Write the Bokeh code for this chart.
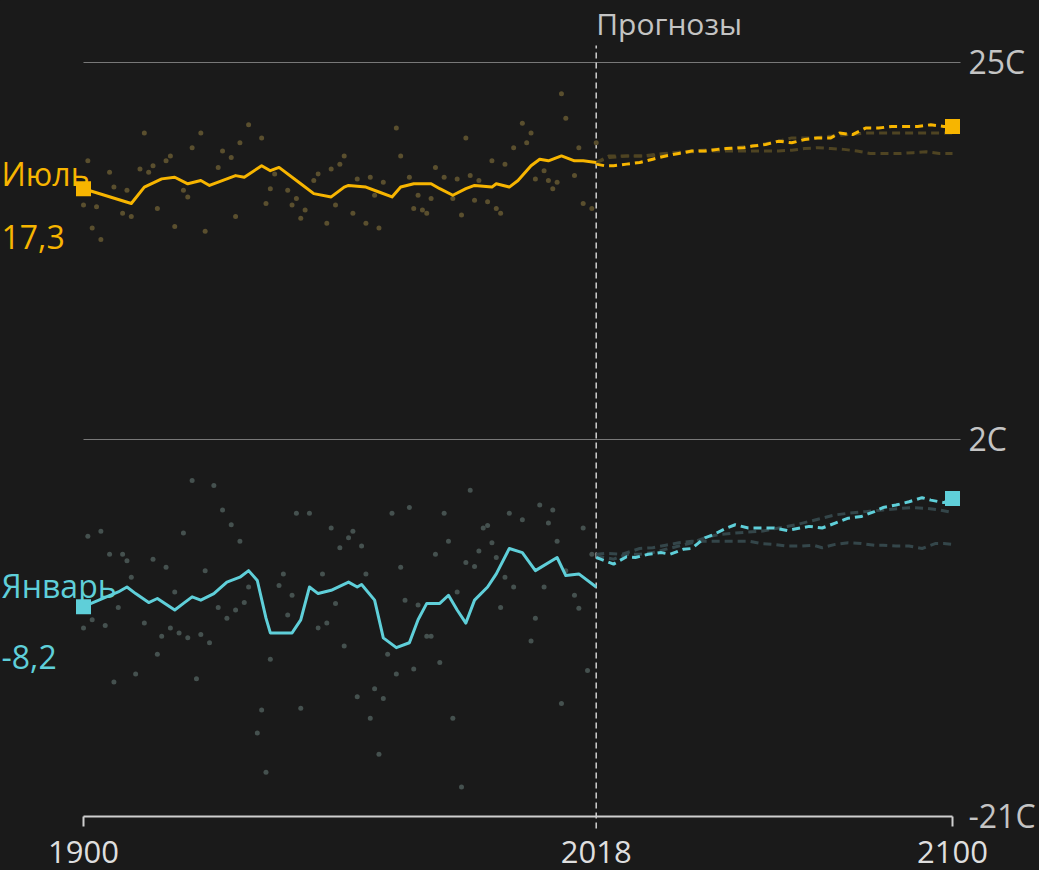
from bokeh.plotting import figure
from bokeh.embed import file_html
from bokeh.resources import INLINE
from bokeh.core.properties import value

# ---------------- data ----------------
xtick_values = [1900, 2018, 2100]
xtick_labels = ["1900", "2018", "2100"]
ytick_values = [-21, 2, 25]
ytick_labels = ["-21C", "2C", "25C"]
forecast_year = 2018
forecast_label = "Прогнозы"

jul_name = "Июль"
jan_name = "Январь"

# smoothed July history
jul_years = [1900, 1911, 1914, 1918, 1921, 1924, 1927, 1929, 1935, 1937,
             1941, 1943, 1945, 1950, 1953, 1957, 1960, 1961, 1965, 1968,
             1971, 1973, 1976, 1980, 1982, 1985, 1988, 1990, 1994, 1995,
             1998, 2000, 2003, 2005, 2007, 2010, 2013, 2015, 2018]
jul_vals = [17.3, 16.4, 17.4, 17.9, 18.0, 17.6, 17.8, 17.5, 18.1, 18.0,
            18.7, 18.4, 18.6, 17.6, 17.0, 16.8, 17.4, 17.5, 17.4, 17.1,
            16.8, 17.4, 17.6, 17.6, 17.3, 16.9, 17.3, 17.5, 17.4, 17.6,
            17.4, 17.8, 18.7, 19.1, 19.0, 19.3, 19.0, 19.0, 18.9]

# smoothed January history
jan_years = [1900, 1908, 1910, 1912, 1915, 1917, 1921, 1923, 1925, 1927,
             1930, 1933, 1936, 1938, 1940, 1942, 1943, 1946, 1948, 1950,
             1952, 1954, 1957, 1961, 1963, 1964, 1967, 1969, 1972, 1975,
             1977, 1979, 1982, 1984, 1986, 1988, 1990, 1993, 1995, 1998,
             2001, 2004, 2009, 2011, 2014, 2018]
jan_vals = [-8.2, -7.3, -7.0, -7.4, -7.95, -7.7, -8.4, -8.0, -7.6, -7.8,
            -7.4, -6.7, -6.4, -6.0, -6.6, -8.9, -9.8, -9.8, -9.8, -9.0,
            -7.0, -7.4, -7.2, -6.7, -7.0, -6.85, -7.8, -10.1, -10.7, -10.4,
            -9.0, -8.0, -8.0, -7.5, -8.4, -9.2, -7.8, -7.0, -6.2, -4.65,
            -4.9, -6.0, -5.2, -6.3, -6.2, -7.0]

# annual July values
jul_pt_years = [1900, 1901, 1902, 1903, 1904, 1906, 1907, 1909, 1910, 1911,
                1913, 1914, 1915, 1916, 1917, 1919, 1920, 1921, 1923, 1924,
                1925, 1927, 1928, 1931, 1932, 1934, 1935, 1936, 1938, 1941,
                1942, 1943, 1944, 1947, 1948, 1949, 1950, 1951, 1953, 1954,
                1956, 1957, 1958, 1959, 1960, 1962, 1963, 1965, 1966, 1967,
                1968, 1969, 1972, 1973, 1975, 1976, 1977, 1978, 1979, 1980,
                1981, 1983, 1985, 1986, 1987, 1988, 1989, 1990, 1991, 1993,
                1994, 1995, 1996, 1997, 1999, 2001, 2002, 2003, 2004, 2006,
                2007, 2008, 2009, 2010, 2011, 2013, 2014, 2015, 2017, 2018]
jul_pt_vals = [16.3, 19.0, 14.9, 16.2, 14.2, 18.3, 17.4, 15.8, 17.2, 15.6,
               18.5, 20.7, 18.3, 18.7, 16.1, 19.0, 19.3, 15.0, 17.2, 16.8,
               19.8, 20.7, 14.7, 18.6, 19.6, 19.2, 15.6, 20.1, 21.2, 20.4,
               16.4, 17.3, 18.2, 17.2, 16.3, 16.7, 15.5, 16.0, 17.8, 18.2,
               15.2, 18.5, 16.3, 18.8, 19.3, 15.8, 17.9, 15.2, 18.0, 16.9,
               14.9, 17.7, 21.0, 19.3, 18.0, 16.1, 16.9, 16.0, 15.8, 16.7,
               18.6, 18.0, 16.7, 17.9, 15.7, 20.4, 18.1, 16.6, 17.8, 16.5,
               19.0, 16.1, 15.8, 18.8, 19.8, 21.3, 20.1, 20.7, 17.9, 18.4,
               17.8, 17.3, 17.7, 23.1, 21.6, 18.1, 19.8, 16.4, 16.1, 20.1]

# annual January values
jan_pt_years = [1900, 1901, 1902, 1904, 1905, 1906, 1907, 1908, 1909, 1910,
                1911, 1912, 1914, 1916, 1917, 1918, 1919, 1920, 1921, 1922,
                1923, 1924, 1925, 1926, 1927, 1928, 1929, 1930, 1931, 1932,
                1933, 1934, 1935, 1936, 1937, 1938, 1940, 1941, 1942, 1943,
                1945, 1946, 1947, 1948, 1949, 1950, 1952, 1954, 1955, 1956,
                1957, 1958, 1959, 1960, 1961, 1962, 1963, 1964, 1965, 1966,
                1967, 1968, 1969, 1970, 1971, 1972, 1973, 1974, 1975, 1976,
                1977, 1979, 1980, 1981, 1982, 1983, 1984, 1985, 1986, 1987,
                1988, 1989, 1990, 1991, 1992, 1993, 1994, 1995, 1996, 1997,
                1998, 1999, 2001, 2003, 2004, 2005, 2006, 2007, 2008, 2009,
                2010, 2011, 2013, 2014, 2015, 2016, 2017]
jan_pt_vals = [-9.5, -3.9, -9.0, -3.6, -9.35, -5.0, -12.8, -8.25, -5.0, -5.4,
               -6.4, -12.3, -9.2, -5.3, -11.1, -10.0, -5.8, -9.5, -7.3, -9.8,
               -3.7, -10.1, -0.5, -12.6, -9.9, -6.0, -10.4, -0.8, -8.25, -2.3,
               -8.9, -3.2, -8.4, -4.2, -7.95, -7.0, -15.9, -14.5, -18.3, -11.4,
               -6.9, -6.2, -8.7, -7.5, -2.5, -14.4, -2.5, -9.5, -6.2, -9.2,
               -3.4, -8.0, -4.6, -10.6, -4.0, -3.6, -13.7, -4.5, -6.2, -15.0,
               -13.2, -17.2, -13.8, -11.1, -2.5, -12.3, -5.8, -7.8, -2.15, -12.0,
               -8.1, -10.0, -10.0, -5.0, -11.6, -2.5, -4.2, -15.0, -7.3, -19.2,
               -5.5, -1.1, -5.75, -4.8, -3.4, -3.25, -4.3, -5.2, -8.25, -6.4,
               -2.5, -7.0, -2.9, -10.3, -8.9, -2.0, -7.0, -3.1, -2.3, -4.2,
               -14.1, -6.0, -7.5, -8.3, -3.4, -12.1, -5.0]

# July projections
jul_proj_years = [2018, 2020, 2022, 2025, 2028, 2031, 2034, 2037, 2040, 2043,
                  2046, 2048, 2052, 2054, 2057, 2060, 2063, 2066, 2069, 2072,
                  2074, 2077, 2080, 2083, 2086, 2089, 2092, 2095, 2098, 2100]
jul_proj_vals = [18.8, 18.7, 18.7, 18.8, 18.9, 19.1, 19.3, 19.45, 19.6, 19.6,
                 19.7, 19.75, 19.8, 19.9, 20.0, 20.2, 20.1, 20.3, 20.4, 20.4,
                 20.7, 20.6, 21.0, 21.0, 21.1, 21.1, 21.1, 21.2, 21.1, 21.1]
jul_hi_years = [2018, 2021, 2025, 2029, 2032, 2036, 2040, 2045, 2050, 2055,
                2060, 2063, 2068, 2072, 2076, 2080, 2085, 2090, 2095, 2100]
jul_hi_vals = [18.9, 19.3, 19.3, 19.3, 19.4, 19.5, 19.6, 19.7, 19.8, 19.95,
               20.2, 20.4, 20.4, 20.5, 20.6, 20.7, 20.7, 20.7, 20.7, 20.7]
jul_lo_years = [2018, 2021, 2025, 2030, 2035, 2040, 2045, 2050, 2055, 2060,
                2063, 2066, 2069, 2072, 2075, 2078, 2081, 2085, 2088, 2091,
                2094, 2097, 2100]
jul_lo_vals = [18.9, 19.2, 19.3, 19.3, 19.45, 19.55, 19.6, 19.6, 19.6, 19.6,
               19.65, 19.75, 19.8, 19.75, 19.7, 19.6, 19.45, 19.45, 19.45, 19.5,
               19.55, 19.45, 19.45]

# January projections
jan_proj_years = [2018, 2019, 2022, 2025, 2027, 2030, 2033, 2035, 2038, 2040,
                  2043, 2045, 2048, 2050, 2053, 2056, 2059, 2062, 2065, 2067,
                  2070, 2073, 2076, 2079, 2082, 2084, 2087, 2090, 2093, 2095,
                  2098, 2100]
jan_proj_vals = [-5.2, -5.3, -5.6, -5.15, -5.2, -5.0, -4.9, -5.0, -4.7, -4.65,
                 -4.0, -3.8, -3.4, -3.2, -3.4, -3.4, -3.4, -3.55, -3.4, -3.3,
                 -3.4, -3.1, -2.8, -2.7, -2.4, -2.15, -2.0, -1.8, -1.55, -1.7,
                 -1.85, -1.6]
jan_hi_years = [2018, 2022, 2025, 2028, 2031, 2034, 2037, 2040, 2043, 2046,
                2050, 2053, 2056, 2060, 2064, 2067, 2070, 2073, 2076, 2080,
                2084, 2088, 2091, 2094, 2097, 2100]
jan_hi_vals = [-5.1, -5.3, -5.0, -5.0, -4.9, -4.7, -4.5, -4.3, -4.0, -3.8,
               -3.7, -3.65, -3.6, -3.4, -3.2, -3.0, -2.8, -2.6, -2.5, -2.4,
               -2.3, -2.2, -2.15, -2.2, -2.3, -2.45]
jan_lo_years = [2018, 2020, 2024, 2028, 2031, 2034, 2037, 2040, 2044, 2047,
                2050, 2053, 2056, 2059, 2062, 2065, 2068, 2070, 2073, 2076,
                2079, 2082, 2084, 2087, 2090, 2093, 2096, 2098, 2100]
jan_lo_vals = [-5.0, -4.95, -5.0, -4.65, -4.6, -4.45, -4.3, -4.2, -4.2, -4.2,
               -4.2, -4.2, -4.35, -4.4, -4.5, -4.5, -4.45, -4.6, -4.4, -4.3,
               -4.35, -4.45, -4.45, -4.5, -4.5, -4.65, -4.35, -4.35, -4.4]

# ---------------- style ----------------
BG = "#1a1a1a"
JUL = "#f7b500"
JAN = "#5fcfd9"
JUL_DOT = "#5a4f2e"
JAN_DOT = "#45514f"
JUL_DIM = "#4f4422"
JAN_DIM = "#34464a"
GRID = "#787878"
AXIS = "#cfcfcf"
TXT = "#c4c4c4"
FONT = "Open Sans"

W, H = 1039, 870
PX_PER_YEAR = 869 / 200.0
PX_PER_DEG = 754 / 46.0
X_START = 1900 - 83 / PX_PER_YEAR
X_END = X_START + W / PX_PER_YEAR
Y_END = 25 + 62 / PX_PER_DEG
Y_START = Y_END - H / PX_PER_DEG
GRID_END = 2100 + 8 / PX_PER_YEAR


def dy(px):
    return px / PX_PER_DEG


def dx(px):
    return px / PX_PER_YEAR


p = figure(frame_width=W, frame_height=H,
           x_range=(X_START, X_END), y_range=(Y_START, Y_END),
           output_backend="svg", toolbar_location=None,
           x_axis_location=None, y_axis_location=None,
           title=None, min_border=0,
           background_fill_color=BG, border_fill_color=BG,
           outline_line_color=None)
p.xgrid.visible = False
p.ygrid.visible = False

# horizontal grid lines at the upper ticks
grid_y = [v for v in ytick_values if v != ytick_values[0]]
p.segment(x0=[xtick_values[0]] * len(grid_y), y0=grid_y,
          x1=[GRID_END] * len(grid_y), y1=grid_y, line_color=GRID, line_width=1)

# value labels on the right
p.text(x=[GRID_END + dx(8)] * len(ytick_values),
       y=[v + dy(1) for v in ytick_values], text=ytick_labels,
       text_color=TXT, text_font=value(FONT), text_font_size="32px",
       text_align="left", text_baseline="alphabetic")

# forecast divider
p.segment(x0=[forecast_year], y0=[ytick_values[0] - dy(12)], x1=[forecast_year],
          y1=[ytick_values[-1] + dy(17)],
          line_color="#d0d0d0", line_width=1.5, line_dash="6 4")
p.text(x=[forecast_year], y=[ytick_values[-1] + dy(39)], text=[forecast_label],
       text_color=TXT, text_font=value(FONT), text_font_size="30px",
       text_align="left", text_baseline="alphabetic")

# time axis: baseline, end ticks, labels
y_base = ytick_values[0]
p.segment(x0=[xtick_values[0]], y0=[y_base], x1=[xtick_values[-1]], y1=[y_base],
          line_color=AXIS, line_width=2)
end_ticks = [xtick_values[0], xtick_values[-1]]
p.segment(x0=end_ticks, y0=[y_base] * 2, x1=end_ticks, y1=[y_base - dy(10)] * 2,
          line_color=AXIS, line_width=2)
p.text(x=xtick_values, y=[y_base - dy(35)] * len(xtick_values), text=xtick_labels,
       text_color="#dedede", text_font=value(FONT), text_font_size="31px",
       text_align="center", text_baseline="alphabetic")

# annual points
p.scatter(jul_pt_years, jul_pt_vals, size=5, color=JUL_DOT, line_color=None)
p.scatter(jan_pt_years, jan_pt_vals, size=5, color=JAN_DOT, line_color=None)

# dim projection scenarios
for xs, ys, c in [(jul_hi_years, jul_hi_vals, JUL_DIM), (jul_lo_years, jul_lo_vals, JUL_DIM),
                  (jan_hi_years, jan_hi_vals, JAN_DIM), (jan_lo_years, jan_lo_vals, JAN_DIM)]:
    p.line(xs, ys, line_color=c, line_width=3, line_dash="8 5")

# main projections
p.line(jul_proj_years, jul_proj_vals, line_color=JUL, line_width=3, line_dash="8 5")
p.line(jan_proj_years, jan_proj_vals, line_color=JAN, line_width=3, line_dash="8 5")

# history
p.line(jul_years, jul_vals, line_color=JUL, line_width=3, line_join="round")
p.line(jan_years, jan_vals, line_color=JAN, line_width=3, line_join="round")

# end markers
p.scatter([jul_years[0], jul_proj_years[-1]], [jul_vals[0], jul_proj_vals[-1]],
          marker="square", size=15, color=JUL, line_color=None)
p.scatter([jan_years[0], jan_proj_years[-1]], [jan_vals[0], jan_proj_vals[-1]],
          marker="square", size=15, color=JAN, line_color=None)


# series labels
def fmt(v):
    return f"{v:.1f}".replace(".", ",")


LBL_X = X_START + dx(1)
p.text(x=[LBL_X, LBL_X], y=[jul_vals[0] + dy(15), jul_vals[0] - dy(48)],
       text=[jul_name, fmt(jul_vals[0])],
       text_color=JUL, text_font=value(FONT), text_font_size="32px",
       text_align="left", text_baseline="alphabetic")
p.text(x=[LBL_X, LBL_X], y=[jan_vals[0] + dy(21), jan_vals[0] - dy(50)],
       text=[jan_name, fmt(jan_vals[0])],
       text_color=JAN, text_font=value(FONT), text_font_size="32px",
       text_align="left", text_baseline="alphabetic")

html = file_html(p, INLINE, title="chart")
html = html.replace("</head>", "<style>html,body{background:#1a1a1a;overflow:hidden;}</style></head>", 1)
open("out.html", "w").write(html)
